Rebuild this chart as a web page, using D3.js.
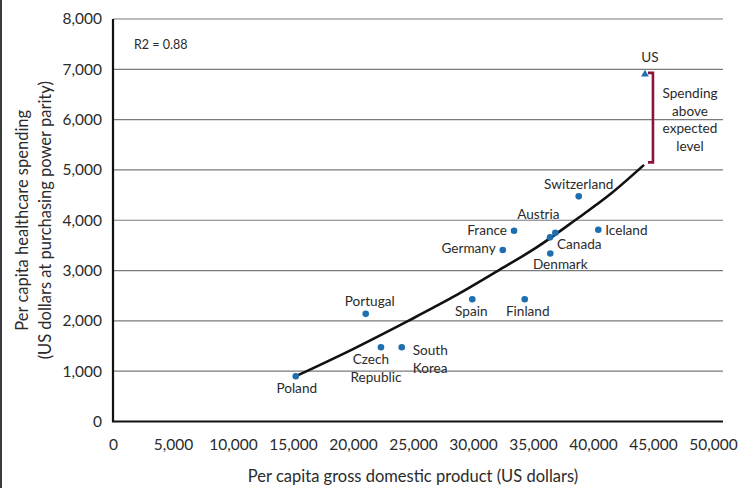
<!DOCTYPE html>
<html>
<head>
<meta charset="utf-8">
<script src="https://cdn.jsdelivr.net/npm/d3@7"></script>
<style>
  html, body { margin: 0; padding: 0; background: #fff; }
  svg { display: block; }
  text { font-family: Lato, "Open Sans", sans-serif; fill: #2b2b2b; }
</style>
</head>
<body>
<svg id="chart" width="753" height="488"></svg>
<script>
// Countries: per capita GDP (US$) and per capita health spending (US$ PPP)
const countries = ["Poland", "Portugal", "Czech Republic", "South Korea", "Spain", "Finland",
  "Germany", "France", "Denmark", "Canada", "Austria", "Iceland", "Switzerland"];
const gdp      = [15230, 21060, 22330, 24060, 29940, 34310, 32480, 33420, 36440, 36420, 36860, 40440, 38810];
const spending = [ 900,  2140,  1475,  1475,  2430,  2430,  3410,  3790,  3340,  3660,  3750,  3810,  4475];

// United States, drawn separately as a triangle
const usLabel = "US";
const usGdp = 44330;
const usSpending = 6890;

// Fitted trend (expected spending for a given GDP)
const trendGdp      = [15230, 20000, 24600, 28300, 32100, 35300, 38500, 41400, 44250];
const trendSpending = [ 900,  1440,  2000,  2470,  3000,  3460,  4000,  4510,  5100];

// Gap between US spending and the trend at US GDP
const bracketRange = [6930, 5150];

const xTicks = [0, 5000, 10000, 15000, 20000, 25000, 30000, 35000, 40000, 45000, 50000];
const yTicks = [0, 1000, 2000, 3000, 4000, 5000, 6000, 7000, 8000];
const r2Text = "R2 = 0.88";
const xTitle = "Per capita gross domestic product (US dollars)";
const yTitle = ["Per capita healthcare spending", "(US dollars at purchasing power parity)"];
const noteLines = ["Spending", "above", "expected", "level"];

const svg = d3.select("#chart");
const x = d3.scaleLinear().domain([0, 50000]).range([113, 713]);
const y = d3.scaleLinear().domain([0, 8000]).range([421.5, 19]);
const gridRight = x(50830);
const dotColor = "#1f6fae";
const bracketColor = "#8a1538";
const fmt = d3.format(",");

// frame edge on the left
svg.append("line").attr("x1", 1).attr("x2", 1).attr("y1", 0).attr("y2", 488)
  .attr("stroke", "#3a3a3a").attr("stroke-width", 2);

// horizontal gridlines
svg.append("g").selectAll("line").data(yTicks.filter(d => d > 0)).join("line")
  .attr("x1", x(0)).attr("x2", gridRight)
  .attr("y1", d => y(d)).attr("y2", d => y(d))
  .attr("stroke", "#7a7a7a").attr("stroke-width", 1.2);

// y axis tick labels
const yAxis = d3.axisLeft(y).tickValues(yTicks).tickFormat(fmt).tickSize(0).tickPadding(11);
const gy = svg.append("g").attr("transform", `translate(${x(0)},0)`).call(yAxis);
gy.select(".domain").remove();
gy.selectAll("text").attr("font-size", 15.5).attr("font-family", "Lato, sans-serif").attr("fill", "#2b2b2b");

// x axis tick labels
const xAxis = d3.axisBottom(x).tickValues(xTicks).tickFormat(fmt).tickSize(0).tickPadding(17);
const gx = svg.append("g").attr("transform", `translate(0,${y(0)})`).call(xAxis);
gx.select(".domain").remove();
gx.selectAll("text").attr("font-size", 15.5).attr("font-family", "Lato, sans-serif").attr("fill", "#2b2b2b");

// axis lines
svg.append("path")
  .attr("d", `M${x(0)},${y(8000)}V${y(0)}H${gridRight}`)
  .attr("fill", "none").attr("stroke", "#111").attr("stroke-width", 2.2);

// axis titles
svg.append("text").attr("x", x(25000)).attr("y", 482).attr("text-anchor", "middle")
  .attr("font-size", 16.5).text(xTitle);
svg.append("g").attr("transform", `translate(0,${(y(0) + y(8000)) / 2}) rotate(-90)`)
  .selectAll("text").data(yTitle).join("text")
  .attr("x", 0).attr("y", (d, i) => 28 + i * 23).attr("text-anchor", "middle")
  .attr("font-size", 16.5).text(d => d);

// R squared note
svg.append("text").attr("x", 134).attr("y", 49).attr("font-size", 12.5).text(r2Text);

// trend curve
const trend = trendGdp.map((g, i) => [g, trendSpending[i]]);
svg.append("path").datum(trend)
  .attr("d", d3.line().x(d => x(d[0])).y(d => y(d[1])).curve(d3.curveMonotoneX))
  .attr("fill", "none").attr("stroke", "#111").attr("stroke-width", 2.6);

// country dots
const pts = countries.map((c, i) => ({ c, g: gdp[i], s: spending[i] }));
svg.append("g").selectAll("circle").data(pts).join("circle")
  .attr("cx", d => x(d.g)).attr("cy", d => y(d.s)).attr("r", 3.3).attr("fill", dotColor);

// US triangle
svg.append("path")
  .attr("d", d3.symbol().type(d3.symbolTriangle).size(26)())
  .attr("transform", `translate(${x(usGdp)},${y(usSpending) - 0.5})`)
  .attr("fill", dotColor);

// country labels: offsets relative to each dot [dx, dy, anchor]
const labelPlacement = {
  "Poland": [[1, 17, "middle"]],
  "Portugal": [[4, -8, "middle"]],
  "Czech Republic": [[-10, 17, "middle"], [-5, 35, "middle"]],
  "South Korea": [[11, 8, "start"], [11, 26, "start"]],
  "Spain": [[-1, 17, "middle"]],
  "Finland": [[3, 17, "middle"]],
  "Germany": [[-7, 3, "end"]],
  "France": [[-7, 4, "end"]],
  "Denmark": [[10, 16, "middle"]],
  "Canada": [[7, 12, "start"]],
  "Austria": [[-17, -14, "middle"]],
  "Iceland": [[7, 5, "start"]],
  "Switzerland": [[0, -7.5, "middle"]]
};
const labelLines = {
  "Czech Republic": ["Czech", "Republic"],
  "South Korea": ["South", "Korea"]
};
pts.forEach(p => {
  const lines = labelLines[p.c] || [p.c];
  lines.forEach((t, j) => {
    const [dx, dy, anchor] = labelPlacement[p.c][j];
    svg.append("text").attr("x", x(p.g) + dx).attr("y", y(p.s) + dy)
      .attr("text-anchor", anchor).attr("font-size", 13.6).text(t);
  });
});
svg.append("text").attr("x", x(usGdp) + 5).attr("y", y(usSpending) - 12.5)
  .attr("text-anchor", "middle").attr("font-size", 13.6).text(usLabel);

// bracket marking spending above the trend
const bx = x(usGdp) + 8;
svg.append("path")
  .attr("d", `M${bx - 5},${y(bracketRange[0])}H${bx}V${y(bracketRange[1])}H${bx - 5}`)
  .attr("fill", "none").attr("stroke", bracketColor).attr("stroke-width", 2.6);

svg.append("g").selectAll("text").data(noteLines).join("text")
  .attr("x", 690).attr("y", (d, i) => 98 + i * 17.5).attr("text-anchor", "middle")
  .attr("font-size", 13.6).text(d => d);
</script>
</body>
</html>
